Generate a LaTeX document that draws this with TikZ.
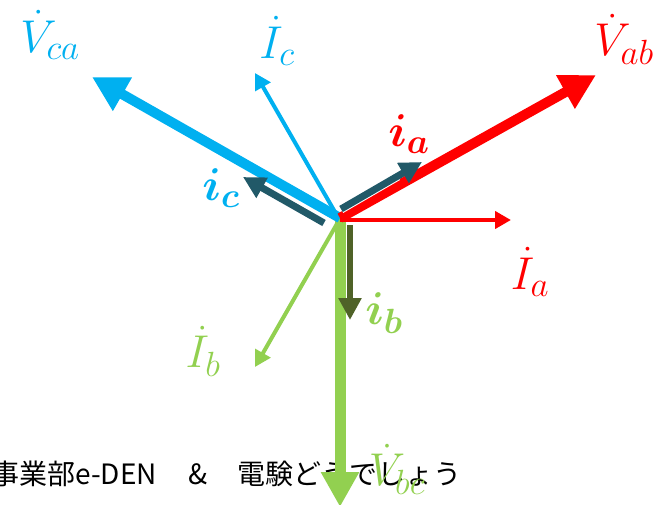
\RequirePackage{fix-cm}
\documentclass[tikz,border=0pt]{standalone}
\usepackage{amsmath,bm}
\usepackage{fontspec}
\newfontfamily\jp{Noto Sans CJK JP}
\usetikzlibrary{arrows.meta,calc}
\DeclareMathSizes{46}{46}{35}{28}
\definecolor{cblue}{HTML}{00B0F0}
\definecolor{cred}{HTML}{FF0000}
\definecolor{cgreen}{HTML}{92D050}
\definecolor{cteal}{HTML}{215968}
\definecolor{colive}{HTML}{4F6228}
\tikzset{
  thickvec/.style={line width=10pt, -{Triangle[length=35pt,width=36pt]}},
  thinvec/.style={line width=4pt, -{Triangle[length=16pt,width=17pt]}},
  midvec/.style={line width=7pt, -{Triangle[length=22pt,width=22pt]}},
  lbl/.style={font=\fontsize{46}{46}\selectfont, inner sep=0pt},
  jtext/.style={font=\jp\fontsize{28}{28}\selectfont, inner sep=0pt, text=black}
}
\begin{document}
\begin{tikzpicture}[x=1pt,y=-1pt]
\useasboundingbox (0,0) rectangle (666,505);
% footer text
\node[jtext, anchor=base west] (foot) at (-9,484) {事業部\makebox[82pt][l]{e-DEN}\hspace*{31pt}\makebox[19pt]{\&}\hspace*{30pt}電験どうでしょう};
% coordinates
\coordinate (O) at (340,218);
\coordinate (Obc) at (340,218);
\coordinate (Tbc) at (340,507);
\coordinate (Tab) at (596,75);
\coordinate (Tca) at (92,77);
\coordinate (OIa) at (340,220);
\coordinate (TIa) at (511,220);
\coordinate (OIc) at (339,219);
\coordinate (TIc) at (255,73);
\coordinate (OIb) at (338,222);
\coordinate (TIb) at (255,367);
\coordinate (Oia) at (341,209);
\coordinate (Tia) at (422,162);
\coordinate (Oic) at (324,223);
\coordinate (Tic) at (243,177);
\coordinate (Oib) at (350,225);
\coordinate (Tib) at (350,320);
% vectors
\draw[thickvec, cgreen, line width=11pt] (Obc) -- (Tbc);
\draw[thinvec, cgreen] (OIb) -- (TIb);
\draw[thinvec, cblue] (OIc) -- (TIc);
\draw[thinvec, cred] (OIa) -- (TIa);
\draw[thickvec, cblue] (O) -- (Tca);
\draw[thickvec, cred] (O) -- (Tab);
\draw[white, line width=9pt] (Oia) -- ($(Oia)!0.7!(Tia)$);
\draw[midvec, cteal] (Oia) -- (Tia);
\draw[white, line width=9pt] (Oic) -- ($(Oic)!0.7!(Tic)$);
\draw[midvec, cteal] (Oic) -- (Tic);
\draw[midvec, colive, line width=6pt] (Oib) -- (Tib);
% labels
\node[lbl, text=cblue] (lVca) at (50,35) {$\dot{V}_{ca}$};
\node[lbl, text=cblue] (lIc) at (277,41) {$\dot{I}_{c}$};
\node[lbl, text=cred] (lVab) at (624,39) {$\dot{V}_{ab}$};
\node[lbl, text=cred] (lia) at (409,134) {$\bm{i}_{\bm{a}}$};
\node[lbl, text=cblue] (lic) at (221,188) {$\bm{i}_{\bm{c}}$};
\node[lbl, text=cred] (lIa) at (530,272) {$\dot{I}_{a}$};
\node[lbl, text=cgreen] (lib) at (384,313) {$\bm{i}_{\bm{b}}$};
\node[lbl, text=cgreen] (lIb) at (203,351) {$\dot{I}_{b}$};
\node[lbl, text=cgreen] (lVbc) at (397,469) {$\dot{V}_{bc}$};
\end{tikzpicture}
\end{document}
